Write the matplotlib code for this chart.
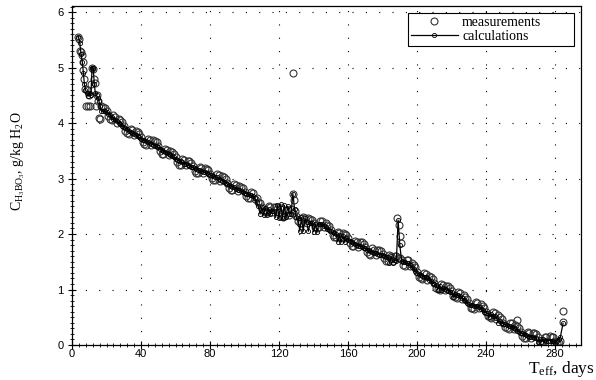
import numpy as np
import matplotlib
matplotlib.use("Agg")
import matplotlib.pyplot as plt
from matplotlib.ticker import MultipleLocator

plt.rcParams['mathtext.fontset'] = 'custom'
plt.rcParams['mathtext.rm'] = 'Liberation Serif'
plt.rcParams['mathtext.it'] = 'Liberation Serif:italic'

# early part (first 17 days)
early_day = [3.7, 4.3, 4.8, 5.4, 5.8, 6.3, 6.6, 7.0, 7.5, 8.2, 8.8, 9.4, 10.0,
             10.6, 11.2, 11.8, 12.3, 12.8, 13.3, 13.8, 14.4, 15.0, 15.5, 16.2]
early_meas = [5.56, 5.52, 5.30, 5.28, 5.22, 5.10, 4.95, 4.80, 4.62, 4.30, 4.60, 4.30,
              4.50, 4.30, 4.70, 5.00, 4.98, 4.80, 4.72, 4.30, 4.50, 4.40, 4.10, 4.08]
early_cday = [3.7, 4.5, 5.2, 6.0, 6.6, 7.2, 7.8, 8.5, 9.3, 10.2, 11.0, 11.6, 12.3,
              12.9, 13.5, 14.2, 14.9, 15.6, 16.3]
early_calc = [5.56, 5.45, 5.25, 5.10, 4.90, 4.70, 4.60, 4.55, 4.48, 4.55, 4.50, 5.00,
              5.00, 4.70, 4.55, 4.50, 4.45, 4.40, 4.30]

# daily values from day 17 to day 283
days = np.arange(17, 284)
meas = [
    4.30, 4.29, 4.28, 4.22, 4.12, 4.07, 4.05, 4.14, 4.11, 4.01,
    4.08, 4.06, 4.02, 3.95, 3.86, 3.82, 3.80, 3.90, 3.88, 3.78,
    3.86, 3.84, 3.81, 3.74, 3.65, 3.62, 3.61, 3.72, 3.70, 3.60,
    3.69, 3.67, 3.65, 3.58, 3.49, 3.45, 3.44, 3.54, 3.52, 3.42,
    3.50, 3.48, 3.45, 3.38, 3.29, 3.25, 3.25, 3.35, 3.33, 3.24,
    3.32, 3.31, 3.28, 3.22, 3.14, 3.10, 3.10, 3.21, 3.19, 3.10,
    3.19, 3.18, 3.15, 3.09, 3.01, 2.97, 2.97, 3.08, 3.06, 2.96,
    3.04, 3.02, 2.99, 2.92, 2.83, 2.80, 2.79, 2.90, 2.88, 2.78,
    2.87, 2.85, 2.83, 2.76, 2.68, 2.65, 2.65, 2.76, 2.74, 2.63,
    2.65, 2.58, 2.56, 2.49, 2.41, 2.39, 2.39, 2.50, 2.49, 2.40,
    2.49, 2.48, 2.46, 2.40, 2.33, 2.31, 2.32, 2.44, 2.44, 2.35,
    2.45, 2.38, 2.41, 2.32, 2.23, 2.20, 2.19, 2.30, 2.28, 2.19,
    2.28, 2.27, 2.26, 2.20, 2.13, 2.11, 2.12, 2.24, 2.24, 2.13,
    2.20, 2.17, 2.14, 2.07, 1.98, 1.94, 1.94, 2.04, 2.02, 1.93,
    2.02, 2.00, 1.98, 1.92, 1.83, 1.79, 1.78, 1.88, 1.86, 1.77,
    1.86, 1.85, 1.82, 1.76, 1.67, 1.64, 1.63, 1.74, 1.72, 1.63,
    1.72, 1.71, 1.70, 1.64, 1.56, 1.52, 1.52, 1.62, 1.61, 1.52,
    1.61, 1.60, 1.57, 1.56, 1.53, 1.45, 1.43, 1.54, 1.53, 1.42,
    1.48, 1.45, 1.40, 1.32, 1.23, 1.21, 1.19, 1.29, 1.28, 1.18,
    1.25, 1.23, 1.19, 1.12, 1.03, 1.01, 0.99, 1.10, 1.08, 0.99,
    1.07, 1.06, 1.03, 0.97, 0.89, 0.86, 0.85, 0.96, 0.94, 0.83,
    0.90, 0.87, 0.83, 0.75, 0.67, 0.66, 0.65, 0.77, 0.76, 0.66,
    0.73, 0.71, 0.67, 0.60, 0.52, 0.50, 0.49, 0.59, 0.58, 0.47,
    0.54, 0.51, 0.47, 0.40, 0.32, 0.30, 0.29, 0.40, 0.39, 0.29,
    0.36, 0.34, 0.31, 0.24, 0.16, 0.13, 0.12, 0.23, 0.21, 0.13,
    0.22, 0.21, 0.20, 0.14, 0.06, 0.04, 0.04, 0.15, 0.14, 0.06,
    0.16, 0.15, 0.14, 0.08, 0.03, 0.04, 0.08,
]
calc = [
    4.22, 4.21, 4.21, 4.20, 4.17, 4.14, 4.11, 4.08, 4.05, 4.03,
    4.00, 3.98, 3.95, 3.93, 3.91, 3.89, 3.86, 3.84, 3.82, 3.80,
    3.78, 3.76, 3.74, 3.72, 3.70, 3.69, 3.67, 3.66, 3.64, 3.62,
    3.61, 3.59, 3.58, 3.56, 3.54, 3.52, 3.50, 3.48, 3.46, 3.44,
    3.42, 3.40, 3.38, 3.36, 3.34, 3.32, 3.31, 3.29, 3.27, 3.26,
    3.24, 3.23, 3.21, 3.20, 3.19, 3.17, 3.16, 3.15, 3.13, 3.12,
    3.11, 3.10, 3.08, 3.07, 3.06, 3.04, 3.03, 3.02, 3.00, 2.98,
    2.96, 2.94, 2.92, 2.90, 2.88, 2.87, 2.85, 2.84, 2.82, 2.80,
    2.79, 2.77, 2.76, 2.74, 2.73, 2.72, 2.71, 2.70, 2.68, 2.65,
    2.57, 2.50, 2.36, 2.48, 2.35, 2.47, 2.35, 2.46, 2.36, 2.42,
    2.41, 2.30, 2.52, 2.29, 2.54, 2.28, 2.52, 2.30, 2.50, 2.37,
    2.37, 2.73, 2.45, 2.30, 2.28, 2.05, 2.30, 2.05, 2.28, 2.21,
    2.05, 2.20, 2.19, 2.04, 2.18, 2.04, 2.18, 2.18, 2.18, 2.15,
    2.12, 2.09, 2.07, 2.05, 2.03, 2.01, 2.00, 1.86, 1.98, 1.86,
    1.96, 1.85, 1.92, 1.90, 1.88, 1.86, 1.84, 1.82, 1.80, 1.79,
    1.78, 1.77, 1.75, 1.74, 1.72, 1.71, 1.69, 1.68, 1.66, 1.65,
    1.64, 1.63, 1.63, 1.62, 1.61, 1.59, 1.58, 1.48, 1.60, 1.48,
    1.53, 1.52, 2.25, 1.80, 1.52, 1.50, 1.49, 1.48, 1.47, 1.44,
    1.40, 1.37, 1.33, 1.30, 1.28, 1.27, 1.25, 1.23, 1.22, 1.20,
    1.17, 1.15, 1.12, 1.10, 1.08, 1.00, 1.07, 0.99, 1.02, 1.01,
    0.99, 0.98, 0.96, 0.95, 0.86, 0.92, 0.91, 0.90, 0.88, 0.85,
    0.82, 0.79, 0.76, 0.73, 0.72, 0.72, 0.71, 0.71, 0.70, 0.68,
    0.65, 0.63, 0.60, 0.58, 0.57, 0.50, 0.55, 0.53, 0.52, 0.49,
    0.40, 0.43, 0.40, 0.38, 0.37, 0.36, 0.35, 0.34, 0.33, 0.31,
    0.28, 0.26, 0.24, 0.22, 0.21, 0.19, 0.18, 0.17, 0.15, 0.15,
    0.14, 0.13, 0.13, 0.06, 0.11, 0.05, 0.10, 0.09, 0.08, 0.08,
    0.08, 0.07, 0.07, 0.03, 0.08, 0.10, 0.14,
]
# isolated measurements (spikes, outliers, last samples)
extra_day = [127.8, 128.6, 128.0, 188.6, 189.4, 190.0, 190.6, 258.0, 284.6, 284.8]
extra_meas = [2.73, 2.62, 4.90, 2.28, 2.16, 1.97, 1.84, 0.45, 0.41, 0.62]
end_cday = [284.6]
end_calc = [0.39]

m_x = list(early_day) + list(days) + extra_day
m_y = early_meas + meas + extra_meas
c_x = list(early_cday) + list(days) + end_cday
c_y = early_calc + calc + end_calc

fig = plt.figure(figsize=(5.96, 3.8), dpi=100)
ax = fig.add_axes([72/596, 35/380, 509/596, 339/380])

ax.plot(m_x, m_y, "o", mfc="none", mec="#333333", mew=0.8, ms=5.0,
        label="measurements")
ax.plot(c_x, c_y, "-o", color="black", lw=0.9, mfc="none", mec="black",
        mew=0.6, ms=3.0, label="calculations")

ax.set_xlim(0, 295)
ax.set_ylim(0, 6.11)
ax.xaxis.set_major_locator(MultipleLocator(40))
ax.xaxis.set_minor_locator(MultipleLocator(4))
ax.yaxis.set_major_locator(MultipleLocator(1))
ax.yaxis.set_minor_locator(MultipleLocator(0.1))
ax.tick_params(which="major", direction="inout", length=6, width=0.8,
               labelsize=8, top=False, right=False)
ax.tick_params(which="minor", direction="inout", length=3, width=0.6,
               top=False, right=False)
ax.tick_params(axis="x", pad=0)
ax.tick_params(axis="y", pad=3)
for lab in ax.get_xticklabels() + ax.get_yticklabels():
    lab.set_family("Liberation Sans")
ax.grid(True, which="major", color="black", lw=0.8, ls=(0, (1, 11)))
for s in ax.spines.values():
    s.set_linewidth(0.9)

leg = ax.legend(loc="upper left", bbox_to_anchor=(0.66, 0.882, 0.326, 0.097),
                mode="expand", fancybox=False, framealpha=1, edgecolor="black",
                prop={"family": "Liberation Serif", "size": 10},
                handlelength=3.4, handletextpad=0.3, borderpad=0.2,
                labelspacing=0.1, borderaxespad=0)
leg.get_frame().set_linewidth(0.8)

fig.text(0.03, 0.575, r"C$_{\mathrm{H_3BO_3}}$, g/kg H$_2$O", rotation=90,
         ha="center", va="center", family="Liberation Serif", fontsize=10)
fig.text(0.998, 0.028, r"T$_{\mathrm{eff}}$, days", ha="right", va="center",
         family="Liberation Serif", fontsize=12.5)

fig.savefig("out.png", dpi=100)
